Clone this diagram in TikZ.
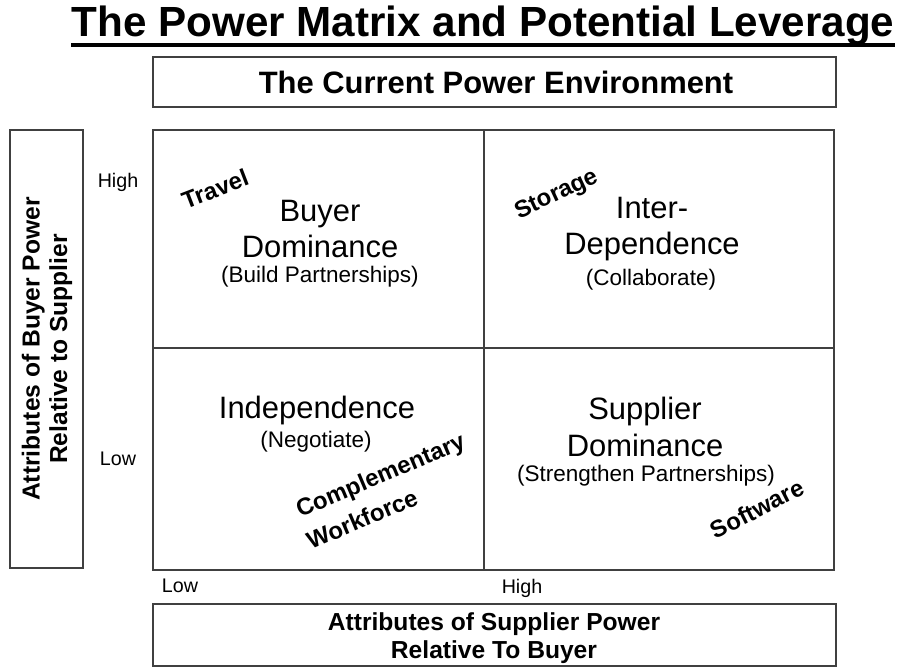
\documentclass[tikz,border=0pt]{standalone}
\usepackage{fontspec}
\setmainfont{Liberation Sans}

\begin{document}
\begin{tikzpicture}[x=0.025cm,y=-0.025cm,
    frame/.style={draw=black!75, line width=1pt},
    bigtxt/.style={font=\fontsize{22}{26}\selectfont, align=center},
    subtxt/.style={font=\fontsize{16}{19}\selectfont},
    axistxt/.style={font=\bfseries\fontsize{17.5}{19.5}\selectfont, align=center},
    lvl/.style={font=\fontsize{14}{16}\selectfont},
    tag/.style={font=\bfseries\fontsize{17}{19}\selectfont, inner sep=1pt}]
    \useasboundingbox (0,0) rectangle (899,668);
    % Title and its underline
    \node[font=\bfseries\fontsize{30}{33}\selectfont, anchor=base, inner sep=0pt] (title) at (483,37) {The Power Matrix and Potential Leverage};
    \draw[line width=2.2pt] ([yshift=-5.7pt]title.base west) -- ([yshift=-5.7pt]title.base east);

    % Box at the top
    \draw[frame] (153,57) rectangle (836,107);
    \node[font=\bfseries\fontsize{22}{24}\selectfont] (env) at (496,82) {The Current Power Environment};

    % Buyer axis on the left
    \draw[frame] (10,130) rectangle (83,568);
    \node[axistxt, rotate=90] (buyeraxis) at (47,349) {Attributes of Buyer Power\\Relative to Supplier};
    \node[lvl] (yhigh) at (118,182) {High};
    \node[lvl] (ylow) at (118,459) {Low};

    % The matrix itself
    \draw[frame] (153,130) rectangle (834,570);
    \draw[frame] (484,130) -- (484,570);
    \draw[frame] (153,348) -- (834,348);

    % Quadrant texts
    \node[bigtxt] (buyer) at (320,229) {Buyer\\Dominance};
    \node[subtxt] (buyersub) at (320,277) {(Build Partnerships)};
    \node[bigtxt] (inter) at (652,229) {Inter-\\Dependence};
    \node[subtxt] (intersub) at (651,280) {(Collaborate)};
    \node[bigtxt] (indep) at (317,411) {Independence};
    \node[subtxt] (indepsub) at (316,442) {(Negotiate)};
    \node[bigtxt] (supplier) at (645,427) {Supplier\\Dominance};
    \node[subtxt] (suppliersub) at (646,476) {(Strengthen Partnerships)};

    % Sectors written at a slant
    \node[tag, rotate=21] (travel) at (215,189) {Travel};
    \node[tag, rotate=25] (storage) at (557,195) {Storage};
    \node[tag, rotate=23] (compl) at (381,477) {Complementary};
    \node[tag, rotate=23] (workf) at (362,519) {Workforce};
    \node[tag, rotate=27] (soft) at (757,509) {Software};

    % Supplier axis at the bottom
    \node[lvl] (xlow) at (180,586) {Low};
    \node[lvl] (xhigh) at (522,588) {High};
    \draw[frame] (153,604) rectangle (836,666);
    \node[axistxt] (supaxis) at (494,638) {Attributes of Supplier Power\\Relative To Buyer};
\end{tikzpicture}
\end{document}
